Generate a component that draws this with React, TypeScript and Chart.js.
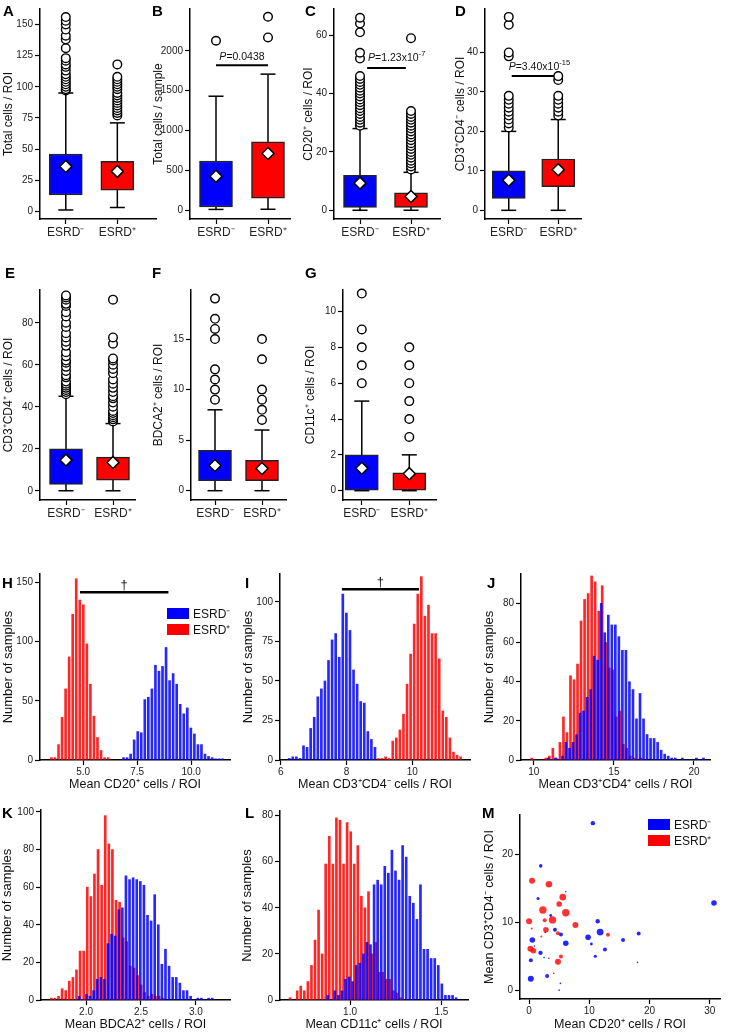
import React, { useEffect, useRef } from 'react';
import { Chart, registerables } from 'chart.js';
Chart.register(...registerables);

const FONT = "'Liberation Sans', Arial, Helvetica, sans-serif";
const BLUE = '#0000ff';
const RED = '#ff0000';
const groups = ['ESRD⁻', 'ESRD⁺'];

// ---------- Box plot data (index 0 = ESRD-, index 1 = ESRD+) ----------
// A: Total cells / ROI
const aLow = [1, 3];
const aQ1 = [13, 17];
const aQ3 = [46, 40];
const aHigh = [95, 71];
const aMean = [36, 32];
const aOutNeg = [97, 98, 100, 102, 104, 106, 108, 110, 113, 116, 118, 121, 123, 131, 138, 141, 146, 150, 153, 156];
const aOutPos = [77, 79, 81, 83, 85, 87, 89, 91, 93, 95, 98, 100, 102, 104, 106, 108, 118];
const aTicks = [0, 25, 50, 75, 100, 125, 150];

// B: Total cells / sample
const bLow = [10, 12];
const bQ1 = [40, 150];
const bQ3 = [618, 858];
const bHigh = [1430, 1707];
const bMean = [427, 711];
const bOutNeg = [2126];
const bOutPos = [2167, 2427];
const bTicks = [0, 500, 1000, 1500, 2000];

// C: CD20+ cells / ROI
const cLow = [0, 0];
const cQ1 = [1, 1];
const cQ3 = [12, 6];
const cHigh = [28, 13];
const cMean = [9.3, 4.7];
const cOutNeg = [29, 30, 31, 32, 33, 34, 35, 36, 37, 38, 39, 40, 41, 42, 43, 44, 45, 46, 52, 54, 61, 64, 66];
const cOutPos = [14, 15, 16, 17, 18, 19, 20, 21, 22, 23, 24, 25, 26, 27, 28, 29, 30, 31, 32, 33, 34, 59];
const cTicks = [0, 20, 40, 60];

// D: CD3+CD4- cells / ROI
const dLow = [0, 0];
const dQ1 = [3, 6];
const dQ3 = [10, 13];
const dHigh = [20, 23];
const dMean = [7.6, 10.3];
const dOutNeg = [21, 22, 23, 24, 25, 26, 27, 28, 29, 39, 40, 47, 49];
const dOutPos = [24, 25, 26, 27, 28, 29, 33, 34];
const dTicks = [0, 10, 20, 30, 40];

// E: CD3+CD4+ cells / ROI
const eLow = [0, 0];
const eQ1 = [3, 5];
const eQ3 = [20, 16];
const eHigh = [45, 32];
const eMean = [14.6, 13.5];
const eOutNeg = [46, 47, 48, 49, 50, 51, 52, 54, 55, 57, 59, 61, 62, 64, 66, 69, 71, 73, 75, 78, 80, 83, 85, 88, 89, 91, 92, 93];
const eOutPos = [33, 34, 35, 36, 37, 38, 40, 42, 44, 45, 47, 49, 51, 53, 56, 58, 60, 62, 63, 70, 73, 91];
const eTicks = [0, 20, 40, 60, 80];

// F: BDCA2+ cells / ROI
const fLow = [0, 0];
const fQ1 = [1, 1];
const fQ3 = [4, 3];
const fHigh = [8, 6];
const fMean = [2.5, 2.2];
const fOutNeg = [9, 10, 11, 12, 15, 16, 17, 19];
const fOutPos = [7, 8, 9, 10, 13, 15];
const fTicks = [0, 5, 10, 15];

// G: CD11c+ cells / ROI
const gLow = [0, 0];
const gQ1 = [0, 0];
const gQ3 = [2, 1];
const gHigh = [5, 2];
const gMean = [1.25, 0.95];
const gOutNeg = [6, 7, 8, 9, 11];
const gOutPos = [3, 4, 5, 6, 7, 8];
const gTicks = [0, 2, 4, 6, 8, 10];

// ---------- Histogram data (bin start, bin width, counts) ----------
const hBinW = 0.164;
const hRedStart = 3.53;
const hRed = [2, 2, 13, 36, 60, 87, 123, 153, 135, 131, 98, 64, 37, 19, 8, 2, 2];
const hBlueStart = 6.87;
const hBlue = [2, 2, 5, 17, 24, 23, 51, 53, 60, 80, 75, 79, 95, 67, 73, 64, 47, 39, 44, 27, 22, 13, 13, 5, 3, 2, 1, 1, 1];
const hXTicks = [5, 7.5, 10];
const hXLabels = ['5.0', '7.5', '10.0'];
const hYTicks = [0, 50, 100, 150];

const iBinW = 0.1085;
const iBlueStart = 6.26;
const iBlue = [1, 2, 2, 1, 9, 8, 20, 27, 40, 45, 50, 63, 76, 80, 65, 105, 93, 82, 57, 48, 37, 36, 18, 13, 8];
const iRedStart = 8.97;
const iRed = [1, 1, 2, 1, 12, 14, 19, 29, 48, 67, 86, 105, 116, 91, 98, 80, 80, 64, 31, 27, 14, 5, 3, 2];
const iXTicks = [6, 8, 10];
const iYTicks = [0, 25, 50, 75, 100];

const jBinW = 0.22;
const jRedStart = 9.87;
const jRed = [1, 0, 0, 0, 1, 2, 6, 1, 9, 22, 14, 43, 41, 49, 71, 82, 85, 94, 91, 76, 89, 60, 47, 46, 22, 25, 8, 6, 2, 1, 0, 1];
const jBlueStart = 10.91;
const jBlue = [1, 0, 1, 0, 2, 9, 6, 9, 13, 24, 25, 32, 36, 53, 51, 80, 65, 74, 69, 69, 63, 56, 56, 40, 36, 21, 34, 21, 13, 11, 11, 9, 5, 3, 2, 1, 1, 0, 1, 0, 0, 0, 1, 0, 1];
const jXTicks = [10, 15, 20];
const jYTicks = [0, 20, 40, 60, 80];

const kBinW = 0.0327;
const kRedStart = 1.684;
const kRed = [1, 1, 2, 6, 5, 10, 12, 16, 26, 26, 60, 55, 67, 80, 61, 98, 83, 80, 53, 52, 33, 31, 18, 17, 13, 8, 4, 2, 3, 2, 2, 1];
const kBlueStart = 1.938;
const kBlue = [2, 0, 3, 2, 5, 11, 12, 11, 30, 35, 34, 48, 49, 66, 64, 65, 64, 63, 61, 45, 42, 56, 40, 19, 27, 18, 12, 12, 9, 5, 5, 2, 0, 1, 1, 0, 1, 1];
const kXTicks = [2, 2.5, 3];
const kXLabels = ['2.0', '2.5', '3.0'];
const kYTicks = [0, 20, 40, 60, 80, 100];

const lBinW = 0.0195;
const lRedStart = 0.672;
const lRed = [1, 0, 4, 6, 4, 8, 15, 26, 39, 20, 59, 71, 59, 79, 78, 59, 77, 73, 59, 67, 45, 40, 47, 20, 25, 12, 12, 9, 9, 4, 3, 1];
const lBlueStart = 0.878;
const lBlue = [2, 0, 4, 2, 4, 9, 10, 8, 15, 16, 20, 25, 24, 50, 52, 50, 58, 55, 65, 56, 52, 67, 62, 45, 42, 35, 50, 22, 22, 18, 18, 15, 7, 2, 2, 2, 1];
const lXTicks = [1, 1.5];
const lXLabels = ['1.0', '1.5'];
const lYTicks = [0, 20, 40, 60, 80];

// ---------- Scatter (M) ----------
const mBlueX = [10.6, 30.7, 1.94, 6.1, 1.5, 3.6, 11.4, 4.3, 5.3, 11.8, 18.2, 9.8, 6.1, 0.55, 10.35, 15.6, 12.6, 11.0, 1.9, 0.3, 2.5, 3.3, 4.1, 3.0, 0.3, 5.2, 5.0, 18.0, 0.9, 2.7];
const mBlueY = [24.6, 12.85, 18.3, 14.5, 13.5, 11.0, 10.15, 8.9, 8.2, 8.55, 8.35, 7.8, 6.9, 7.4, 6.8, 7.4, 6.0, 5.0, 5.5, 4.4, 4.8, 4.7, 2.5, 2.1, 1.7, 1.0, 0.0, 4.1, 6.5, 8.5];
const mBlueR = [2.2, 2.8, 1.8, 0.8, 1.6, 1.4, 2.2, 2.0, 2.0, 3.4, 2.0, 2.8, 2.8, 2.8, 1.4, 2.0, 2.0, 1.6, 2.2, 2.0, 0.8, 0.8, 0.8, 2.0, 3.0, 0.8, 0.8, 0.8, 0.8, 0.8];
const mRedX = [0.5, 3.3, 5.6, 5.0, 2.3, 6.1, 3.9, 0.0, 2.6, 7.7, 2.8, 4.8, 13.1, 0.45, 2.05, 0.23, 0.73, 5.3, 4.8];
const mRedY = [16.1, 15.6, 13.7, 12.7, 11.8, 11.4, 10.35, 10.15, 10.3, 9.6, 8.9, 8.4, 8.15, 9.1, 7.9, 6.1, 5.8, 4.95, 4.2];
const mRedR = [3.0, 3.3, 3.3, 2.8, 3.7, 3.7, 3.7, 3.0, 2.0, 3.0, 2.8, 2.0, 2.0, 1.0, 1.0, 3.0, 2.8, 2.0, 3.0];
const mXTicks = [0, 10, 20, 30];
const mYTicks = [0, 10, 20];

// ---------- helpers ----------
type Seg = { t: string; i?: boolean; sup?: boolean };
type Note = { x: number; y: number; segs: Seg[]; size?: number };

function notesPlugin(items: Note[]) {
  return {
    id: 'notes',
    afterDatasetsDraw(chart: any) {
      const { ctx, scales } = chart;
      ctx.save();
      for (const it of items) {
        const px = scales.x.getPixelForValue(it.x);
        const py = scales.y.getPixelForValue(it.y);
        const size = it.size || 10.5;
        const parts = it.segs.map((s) => {
          const fs = s.sup ? size * 0.72 : size;
          const font = `${s.i ? 'italic ' : ''}${fs}px ${FONT}`;
          ctx.font = font;
          return { t: s.t, font, w: ctx.measureText(s.t).width, dy: s.sup ? -size * 0.42 : 0 };
        });
        const total = parts.reduce((a, p) => a + p.w, 0);
        let cx = px - total / 2;
        ctx.fillStyle = '#111';
        ctx.textBaseline = 'alphabetic';
        ctx.textAlign = 'left';
        for (const p of parts) {
          ctx.font = p.font;
          ctx.fillText(p.t, cx, py + p.dy);
          cx += p.w;
        }
      }
      ctx.restore();
    },
  };
}

type Geo = { x: number; y: number; w: number; h: number; l: number; r: number; t: number; b: number };

function yAxis(g: Geo, min: number, max: number, ticks: number[], title: string, titlePad: number, titleSize = 12) {
  return {
    type: 'linear',
    position: 'left',
    min,
    max,
    offset: false,
    afterBuildTicks: (s: any) => {
      s.ticks = ticks.map((v) => ({ value: v }));
    },
    afterFit: (s: any) => {
      s.width = g.l - g.x;
      s.paddingTop = 0;
      s.paddingBottom = 0;
    },
    ticks: {
      autoSkip: false,
      font: { family: FONT, size: 10 },
      color: '#222',
      padding: 2,
      callback: (v: any) => String(v),
    },
    grid: { drawOnChartArea: false, drawTicks: true, tickLength: 5, tickColor: '#000', tickWidth: 1.2, offset: false },
    border: { display: true, color: '#000', width: 1.5 },
    title: {
      display: true,
      text: title,
      font: { family: FONT, size: titleSize },
      color: '#111',
      padding: { top: titlePad, bottom: 0 },
    },
  };
}

function xAxis(g: Geo, min: number, max: number, ticks: number[], labels: string[], fontSize: number, pad: number, title?: string, titlePad = 0) {
  return {
    type: 'linear',
    position: 'bottom',
    min,
    max,
    offset: false,
    afterBuildTicks: (s: any) => {
      s.ticks = ticks.map((v) => ({ value: v }));
    },
    afterFit: (s: any) => {
      s.height = g.y + g.h - g.b;
      s.paddingLeft = 0;
      s.paddingRight = 0;
    },
    ticks: {
      autoSkip: false,
      maxRotation: 0,
      minRotation: 0,
      font: { family: FONT, size: fontSize },
      color: '#222',
      padding: pad,
      callback: (_v: any, i: number) => labels[i],
    },
    grid: { drawOnChartArea: false, drawTicks: true, tickLength: 5, tickColor: '#000', tickWidth: 1.2, offset: false },
    border: { display: true, color: '#000', width: 1.5 },
    title: title
      ? { display: true, text: title, font: { family: FONT, size: 12.5 }, color: '#111', padding: { top: 0, bottom: titlePad } }
      : { display: false },
  };
}

function baseOptions(g: Geo, scales: any) {
  return {
    responsive: false,
    maintainAspectRatio: false,
    animation: false,
    events: [],
    layout: { padding: { left: 0, top: g.t - g.y, right: g.x + g.w - g.r, bottom: 0 } },
    plugins: { legend: { display: false }, tooltip: { enabled: false } },
    scales,
  };
}

type BoxData = {
  low: number[]; q1: number[]; q3: number[]; high: number[]; mean: number[]; out: number[][];
  ticks: number[]; ymin: number; ymax: number; ylabel: string;
};
type PMark = { x1: number; x2: number; y: number; note: Note };

function boxConfig(g: Geo, c1: number, c2: number, d: BoxData, titlePad: number, p?: PMark) {
  const cats = [1, 2];
  const unit = c2 - c1;
  const xmin = 1 - (c1 - g.l) / unit;
  const xmax = 2 + (g.r - c2) / unit;
  const datasets: any[] = [
    {
      type: 'scatter',
      data: cats.map((c, i) => ({ x: c, y: d.mean[i] })),
      pointStyle: 'rectRot',
      pointRadius: 6,
      backgroundColor: '#fff',
      borderColor: '#000',
      borderWidth: 1.5,
      clip: false,
      order: 0,
    },
    {
      type: 'scatter',
      data: d.out.flatMap((arr, i) => arr.map((v) => ({ x: cats[i], y: v }))),
      pointStyle: 'circle',
      pointRadius: 4.3,
      backgroundColor: '#fff',
      borderColor: '#000',
      borderWidth: 1.4,
      clip: false,
      order: 1,
    },
    {
      type: 'bar',
      data: cats.map((c, i) => ({ x: c, y: [d.q1[i], d.q3[i]] })),
      backgroundColor: [BLUE, RED],
      borderColor: '#222',
      borderWidth: 1.5,
      borderSkipped: false,
      barThickness: 33,
      grouped: false,
      order: 2,
    },
    {
      type: 'scatter',
      data: cats.flatMap((c, i) => [{ x: c, y: d.low[i] }, { x: c, y: d.high[i] }]),
      pointStyle: 'line',
      pointRadius: 7.5,
      borderColor: '#000',
      borderWidth: 1.5,
      clip: false,
      order: 3,
    },
    ...cats.map((c, i) => ({
      type: 'line',
      data: [{ x: c, y: d.low[i] }, { x: c, y: d.high[i] }],
      borderColor: '#000',
      borderWidth: 1.5,
      pointRadius: 0,
      order: 4,
    })),
  ];
  if (p) {
    datasets.push({
      type: 'line',
      data: [{ x: p.x1, y: p.y }, { x: p.x2, y: p.y }],
      borderColor: '#000',
      borderWidth: 2,
      pointRadius: 0,
      order: 5,
    });
  }
  return {
    type: 'bar',
    data: { datasets },
    options: baseOptions(g, {
      x: xAxis(g, xmin, xmax, cats, groups, 12, 1),
      y: yAxis(g, d.ymin, d.ymax, d.ticks, d.ylabel, titlePad),
    }),
    plugins: [notesPlugin(p ? [p.note] : [])],
  };
}

function bins(start: number, width: number, counts: number[]) {
  return counts.map((c, i) => ({ x: start + i * width, y: c }));
}

type HistData = {
  blue: { x: number; y: number }[];
  red: { x: number; y: number }[];
  xmin: number; xmax: number; ymax: number;
  xticks: number[]; xlabels: string[]; yticks: number[];
  xlabel: string;
};

function histConfig(g: Geo, d: HistData, yTitlePad: number, xTitlePad: number, dagger?: { x1: number; x2: number; y: number; note: Note }) {
  const datasets: any[] = [
    { type: 'bar', data: d.blue, backgroundColor: 'rgba(0,0,255,0.85)', barThickness: 2, grouped: false, order: 1 },
    { type: 'bar', data: d.red, backgroundColor: 'rgba(255,0,0,0.85)', barThickness: 2, grouped: false, order: 2 },
  ];
  if (dagger) {
    datasets.push({
      type: 'line',
      data: [{ x: dagger.x1, y: dagger.y }, { x: dagger.x2, y: dagger.y }],
      borderColor: '#000',
      borderWidth: 2.5,
      pointRadius: 0,
      clip: false,
      order: 0,
    });
  }
  return {
    type: 'bar',
    data: { datasets },
    options: baseOptions(g, {
      x: xAxis(g, d.xmin, d.xmax, d.xticks, d.xlabels, 10, 1, d.xlabel, xTitlePad),
      y: yAxis(g, 0, d.ymax, d.yticks, 'Number of samples', yTitlePad, 13),
    }),
    plugins: [notesPlugin(dagger ? [dagger.note] : [])],
  };
}

function scatterConfig(g: Geo) {
  const blue = mBlueX.map((x, i) => ({ x, y: mBlueY[i], r: mBlueR[i] }));
  const red = mRedX.map((x, i) => ({ x, y: mRedY[i], r: mRedR[i] }));
  return {
    type: 'bubble',
    data: {
      datasets: [
        { data: blue, backgroundColor: 'rgba(0,0,255,0.85)', borderWidth: 0, clip: false, order: 1 },
        { data: red, backgroundColor: 'rgba(255,0,0,0.8)', borderWidth: 0, clip: false, order: 0 },
      ],
    },
    options: baseOptions(g, {
      x: xAxis(g, -1.5, 31.7, mXTicks, mXTicks.map(String), 10, 1, 'Mean CD20⁺ cells / ROI', 0),
      y: yAxis(g, -1.3, 25.8, mYTicks, 'Mean CD3⁺CD4⁻ cells / ROI', 2, 12.5),
    }),
  };
}

// ---------- geometry ----------
const R1 = { y: 0, h: 245, t: 3, b: 219 };
const R2 = { y: 255, h: 265, t: 290, b: 500 };
const R3 = { y: 565, h: 230, t: 574, b: 760 };
const R4 = { y: 800, h: 232, t: 810, b: 1000 };

const gA: Geo = { x: 0, w: 165, l: 40, r: 157, ...R1 };
const gB: Geo = { x: 150, w: 150, l: 190, r: 290, ...R1 };
const gC: Geo = { x: 300, w: 150, l: 334, r: 440, ...R1 };
const gD: Geo = { x: 450, w: 140, l: 485, r: 582, ...R1 };
const gE: Geo = { x: 0, w: 145, l: 40, r: 135, ...R2 };
const gF: Geo = { x: 150, w: 145, l: 191, r: 286, ...R2 };
const gG: Geo = { x: 300, w: 145, l: 343, r: 437, ...R2 };
const gH: Geo = { x: 0, w: 240, l: 40, r: 230, ...R3 };
const gI: Geo = { x: 240, w: 240, l: 280, r: 470, ...R3 };
const gJ: Geo = { x: 480, w: 250, l: 521, r: 710, ...R3 };
const gK: Geo = { x: 0, w: 240, l: 41, r: 230, ...R4 };
const gL: Geo = { x: 240, w: 240, l: 280, r: 468, ...R4, t: 811 };
const gM: Geo = { x: 480, w: 250, l: 520, r: 720, ...R4, t: 815, b: 999 };

const P = (rest: string, sup?: string): Seg[] => {
  const s: Seg[] = [{ t: 'P', i: true }, { t: rest }];
  if (sup) s.push({ t: sup, sup: true });
  return s;
};

const configs: { g: Geo; make: () => any }[] = [
  {
    g: gA,
    make: () => boxConfig(gA, 66, 118, { low: aLow, q1: aQ1, q3: aQ3, high: aHigh, mean: aMean, out: [aOutNeg, aOutPos], ticks: aTicks, ymin: -6.25, ymax: 162.5, ylabel: 'Total cells / ROI' }, 1),
  },
  {
    g: gB,
    make: () => boxConfig(gB, 216, 268, { low: bLow, q1: bQ1, q3: bQ3, high: bHigh, mean: bMean, out: [bOutNeg, bOutPos], ticks: bTicks, ymin: -110, ymax: 2524, ylabel: 'Total cells / sample' }, 1,
      { x1: 1, x2: 2, y: 1817, note: { x: 1.5, y: 1880, segs: P('=0.0438') } }),
  },
  {
    g: gC,
    make: () => boxConfig(gC, 360, 411, { low: cLow, q1: cQ1, q3: cQ3, high: cHigh, mean: cMean, out: [cOutNeg, cOutPos], ticks: cTicks, ymin: -3, ymax: 69, ylabel: 'CD20⁺ cells / ROI' }, 1,
      { x1: 1.14, x2: 1.9, y: 48.8, note: { x: 1.72, y: 51.3, segs: P('=1.23x10', '-7') } }),
  },
  {
    g: gD,
    make: () => boxConfig(gD, 509, 559, { low: dLow, q1: dQ1, q3: dQ3, high: dHigh, mean: dMean, out: [dOutNeg, dOutPos], ticks: dTicks, ymin: -2.2, ymax: 51, ylabel: 'CD3⁺CD4⁻ cells / ROI' }, 3,
      { x1: 1.06, x2: 1.96, y: 34, note: { x: 1.62, y: 35.6, segs: P('=3.40x10', '-15') } }),
  },
  {
    g: gE,
    make: () => boxConfig(gE, 66, 113, { low: eLow, q1: eQ1, q3: eQ3, high: eHigh, mean: eMean, out: [eOutNeg, eOutPos], ticks: eTicks, ymin: -4.4, ymax: 95.6, ylabel: 'CD3⁺CD4⁺ cells / ROI' }, 1),
  },
  {
    g: gF,
    make: () => boxConfig(gF, 215, 262, { low: fLow, q1: fQ1, q3: fQ3, high: fHigh, mean: fMean, out: [fOutNeg, fOutPos], ticks: fTicks, ymin: -0.92, ymax: 19.85, ylabel: 'BDCA2⁺ cells / ROI' }, 1),
  },
  {
    g: gG,
    make: () => boxConfig(gG, 362, 410, { low: gLow, q1: gQ1, q3: gQ3, high: gHigh, mean: gMean, out: [gOutNeg, gOutPos], ticks: gTicks, ymin: -0.52, ymax: 11.2, ylabel: 'CD11c⁺ cells / ROI' }, 3),
  },
  {
    g: gH,
    make: () => histConfig(gH, {
      blue: bins(hBlueStart, hBinW, hBlue), red: bins(hRedStart, hBinW, hRed),
      xmin: 3.0, xmax: 11.8, ymax: 157, xticks: hXTicks, xlabels: hXLabels, yticks: hYTicks,
      xlabel: 'Mean CD20⁺ cells / ROI',
    }, 1, 2.5, { x1: 4.85, x2: 8.95, y: 141.5, note: { x: 6.9, y: 144, segs: [{ t: '†' }], size: 13 } }),
  },
  {
    g: gI,
    make: () => histConfig(gI, {
      blue: bins(iBlueStart, iBinW, iBlue), red: bins(iRedStart, iBinW, iRed),
      xmin: 5.98, xmax: 11.75, ymax: 117.7, xticks: iXTicks, xlabels: iXTicks.map(String), yticks: iYTicks,
      xlabel: 'Mean CD3⁺CD4⁻ cells / ROI',
    }, 1, 2.5, { x1: 7.86, x2: 10.2, y: 108, note: { x: 9.03, y: 110, segs: [{ t: '†' }], size: 13 } }),
  },
  {
    g: gJ,
    make: () => histConfig(gJ, {
      blue: bins(jBlueStart, jBinW, jBlue), red: bins(jRedStart, jBinW, jRed),
      xmin: 9.2, xmax: 21.0, ymax: 95, xticks: jXTicks, xlabels: jXTicks.map(String), yticks: jYTicks,
      xlabel: 'Mean CD3⁺CD4⁺ cells / ROI',
    }, 2, 2.5),
  },
  {
    g: gK,
    make: () => histConfig(gK, {
      blue: bins(kBlueStart, kBinW, kBlue), red: bins(kRedStart, kBinW, kRed),
      xmin: 1.59, xmax: 3.31, ymax: 101, xticks: kXTicks, xlabels: kXLabels, yticks: kYTicks,
      xlabel: 'Mean BDCA2⁺ cells / ROI',
    }, 0, 0),
  },
  {
    g: gL,
    make: () => histConfig(gL, {
      blue: bins(lBlueStart, lBinW, lBlue), red: bins(lRedStart, lBinW, lRed),
      xmin: 0.617, xmax: 1.645, ymax: 82, xticks: lXTicks, xlabels: lXLabels, yticks: lYTicks,
      xlabel: 'Mean CD11c⁺ cells / ROI',
    }, 0, 0),
  },
  { g: gM, make: () => scatterConfig(gM) },
];

const letters: [string, number, number][] = [
  ['A', 3, 3], ['B', 152, 3], ['C', 305, 3], ['D', 455, 3],
  ['E', 5, 265], ['F', 152, 265], ['G', 305, 265],
  ['H', 2, 575], ['I', 245, 575], ['J', 487, 575],
  ['K', 2, 805], ['L', 245, 805], ['M', 482, 805],
];

function ChartCanvas({ g, make }: { g: Geo; make: () => any }) {
  const ref = useRef<HTMLCanvasElement>(null);
  useEffect(() => {
    const chart = new Chart(ref.current as HTMLCanvasElement, make());
    return () => chart.destroy();
  }, []);
  return (
    <canvas
      ref={ref}
      width={g.w}
      height={g.h}
      style={{ position: 'absolute', left: g.x, top: g.y, width: g.w, height: g.h }}
    />
  );
}

function LegendBox({ x, y }: { x: number; y: number }) {
  const item = (color: string, label: string, dy: number) => (
    <div style={{ position: 'absolute', left: x, top: y + dy, height: 12, display: 'flex', alignItems: 'center' }}>
      <div style={{ width: 22, height: 11, background: color }} />
      <div style={{ marginLeft: 4, font: `12px ${FONT}`, color: '#111', whiteSpace: 'nowrap' }}>{label}</div>
    </div>
  );
  return (
    <>
      {item(BLUE, 'ESRD⁻', 0)}
      {item(RED, 'ESRD⁺', 16)}
    </>
  );
}

export default function App() {
  return (
    <div style={{ position: 'absolute', left: 0, top: 0, width: 730, height: 1032, background: '#fff', overflow: 'hidden' }}>
      {configs.map((c, i) => (
        <ChartCanvas key={i} g={c.g} make={c.make} />
      ))}
      {letters.map(([t, x, y]) => (
        <div key={t} style={{ position: 'absolute', left: x, top: y, font: `bold 15px ${FONT}`, color: '#000', lineHeight: '15px' }}>
          {t}
        </div>
      ))}
      <LegendBox x={167} y={607} />
      <LegendBox x={648} y={818} />
    </div>
  );
}
